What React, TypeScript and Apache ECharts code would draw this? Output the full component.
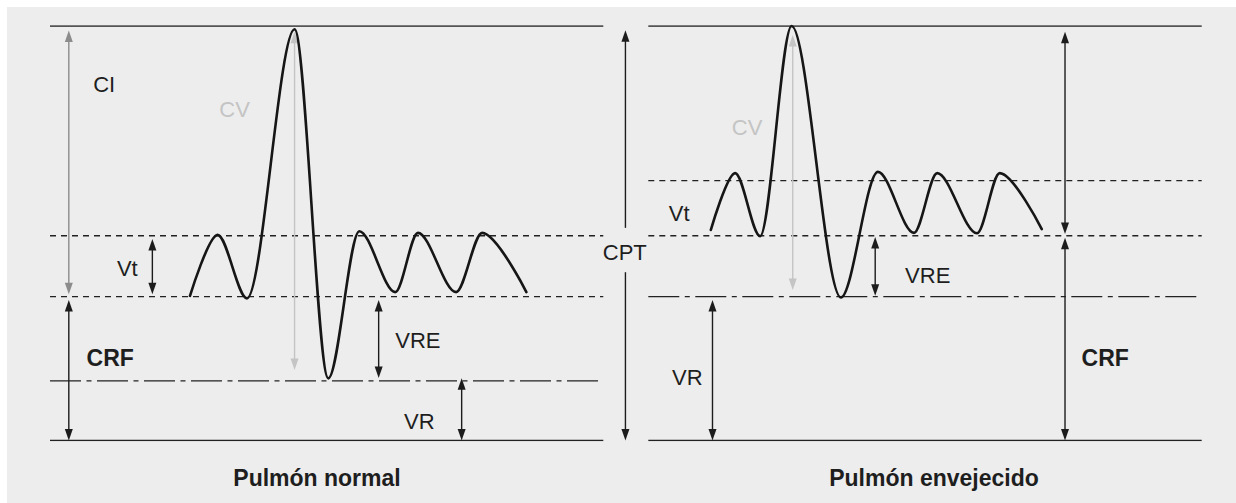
import React, { useEffect, useRef } from "react";
import * as echarts from "echarts";

// Lung volumes as % of total lung capacity (CPT)
const levelKeys = ["CPT", "Vt", "CRF", "VR", "Cero"];
const normalLevels = [100, 49.4, 34.7, 14.4, 0];
const agedLevels = [100, 62.7, 49.4, 34.7, 0];
const levelDash = ["solid", "dashed", "dashed", "dashdot", "solid"];

// Spirogram traces (time units 0..100 per panel, volume % CPT)
const normalTraceX = [25.3, 30.3, 35.6, 44.2, 50.3, 55.9, 62.4, 66.5, 73.4, 78.1, 86.1];
const normalTraceY = [34.9, 49.6, 34.3, 99.2, 15.0, 50.5, 35.8, 50.1, 35.8, 50.1, 35.8];
const agedTraceX = [11.3, 15.7, 20.2, 25.9, 34.8, 41.5, 48.0, 52.2, 59.4, 63.5, 71.1];
const agedTraceY = [50.8, 64.5, 49.3, 100, 34.5, 64.8, 50.1, 64.5, 50.0, 64.5, 51.0];

// Arrows: [x, from, to, head at from, head at to, tone]
const normalArrows = [
  [3.4, 35.3, 98.9, 1, 1, 1],
  [3.4, 33.9, 0, 1, 1, 0],
  [18.5, 48.6, 35.3, 1, 1, 0],
  [44.2, 98.6, 17.0, 1, 1, 2],
  [59.4, 33.9, 15.1, 1, 1, 0],
  [74.4, 15.0, 0, 1, 1, 0],
  [104.0, 51.3, 99.0, 0, 1, 0],
  [104.0, 40.6, 0, 0, 1, 0],
];
const agedArrows = [
  [11.6, 33.9, 0, 1, 1, 0],
  [41.0, 49.1, 34.9, 1, 1, 0],
  [26.1, 97.8, 36.3, 1, 1, 2],
  [75.3, 98.6, 49.8, 1, 1, 0],
  [75.3, 48.9, 0, 1, 1, 0],
];

// Labels
const normalLabels = ["CI", "CV", "Vt", "CRF", "VRE", "VR", "CPT"];
const normalLabelX = [7.8, 30.6, 12.1, 6.6, 62.4, 64.0, 99.9];
const normalLabelY = [85.8, 79.9, 41.6, 19.8, 24.2, 4.5, 45.4];
const agedLabels = ["CV", "Vt", "VRE", "VR", "CRF"];
const agedLabelX = [15.1, 3.7, 46.4, 4.3, 78.3];
const agedLabelY = [75.6, 54.8, 39.9, 15.2, 19.8];

const panelTitles = ["Pulmón normal", "Pulmón envejecido"];

const TONES = ["#1c1c1c", "#8c8c8c", "#c4c4c4"];
const FONT = "'Liberation Sans', Arial, Helvetica, sans-serif";

function dashFor(kind: string): any {
  if (kind === "dashed") return [6, 5];
  if (kind === "dashdot") return [31, 5.5, 5, 5.5];
  return "solid";
}

function levelSeries(levels: number[], gridIdx: number) {
  return levels.map((v, i) => ({
    type: "line",
    name: levelKeys[i],
    xAxisIndex: gridIdx,
    yAxisIndex: gridIdx,
    data: [
      [0, v],
      [100, v],
    ],
    showSymbol: false,
    symbol: "none",
    silent: true,
    z: 2,
    lineStyle: { color: "#222", width: 1.3, type: dashFor(levelDash[i]) },
  }));
}

function traceSeries(xs: number[], ys: number[], gridIdx: number) {
  return {
    type: "line",
    xAxisIndex: gridIdx,
    yAxisIndex: gridIdx,
    data: xs.map((x, i) => [x, ys[i]]),
    smooth: 0.32,
    smoothMonotone: "x",
    showSymbol: false,
    symbol: "none",
    silent: true,
    clip: false,
    z: 5,
    lineStyle: { color: "#161616", width: 2.6, cap: "round", join: "round" },
  };
}

function arrowSeries(arrows: number[][], gridIdx: number) {
  return {
    type: "custom",
    xAxisIndex: gridIdx,
    yAxisIndex: gridIdx,
    data: arrows,
    silent: true,
    clip: false,
    z: 3,
    encode: { x: 0, y: [1, 2] },
    renderItem: (params: any, api: any) => {
      const x = api.value(0);
      const a = api.value(1);
      const b = api.value(2);
      const hA = api.value(3);
      const hB = api.value(4);
      const color = TONES[api.value(5)];
      const p1 = api.coord([x, a]);
      const p2 = api.coord([x, b]);
      const dir = p2[1] >= p1[1] ? 1 : -1;
      const L = 11.5;
      const W = 4;
      const s1 = hA ? p1[1] + dir * (L - 1) : p1[1];
      const s2 = hB ? p2[1] - dir * (L - 1) : p2[1];
      const children: any[] = [
        {
          type: "line",
          shape: { x1: p1[0], y1: s1, x2: p2[0], y2: s2 },
          style: { stroke: color, lineWidth: 1.4 },
        },
      ];
      if (hB) {
        children.push({
          type: "polygon",
          shape: {
            points: [
              [p2[0], p2[1]],
              [p2[0] - W, p2[1] - dir * L],
              [p2[0] + W, p2[1] - dir * L],
            ],
          },
          style: { fill: color },
        });
      }
      if (hA) {
        children.push({
          type: "polygon",
          shape: {
            points: [
              [p1[0], p1[1]],
              [p1[0] - W, p1[1] + dir * L],
              [p1[0] + W, p1[1] + dir * L],
            ],
          },
          style: { fill: color },
        });
      }
      return { type: "group", children };
    },
  };
}

function labelSeries(names: string[], xs: number[], ys: number[], gridIdx: number) {
  return {
    type: "custom",
    xAxisIndex: gridIdx,
    yAxisIndex: gridIdx,
    data: xs.map((x, i) => [x, ys[i]]),
    silent: true,
    clip: false,
    z: 6,
    encode: { x: 0, y: 1 },
    renderItem: (params: any, api: any) => {
      const name = names[params.dataIndex];
      const p = api.coord([api.value(0), api.value(1)]);
      const bold = name === "CRF";
      const fill = name === "CV" ? "#c4c4c4" : "#1e1e1e";
      return {
        type: "text",
        x: p[0],
        y: p[1],
        style: {
          text: name,
          fill,
          fontSize: bold ? 23 : 22,
          fontWeight: bold ? "bold" : "normal",
          fontFamily: FONT,
          align: "left",
          verticalAlign: "middle",
        },
      };
    },
  };
}

export default function App() {
  const ref = useRef<HTMLDivElement>(null);

  useEffect(() => {
    if (!ref.current) return;
    const chart = echarts.init(ref.current, undefined, { renderer: "svg" });
    const gridTop = 19;
    const gridHeight = 414.5;
    const option: any = {
      animation: false,
      backgroundColor: "#ededed",
      grid: [
        { left: 43, top: gridTop, width: 553.3, height: gridHeight },
        { left: 641.3, top: gridTop, width: 553.4, height: gridHeight },
      ],
      xAxis: [0, 1].map((g) => ({
        type: "value",
        gridIndex: g,
        min: 0,
        max: 100,
        show: false,
      })),
      yAxis: [0, 1].map((g) => ({
        type: "value",
        gridIndex: g,
        min: 0,
        max: 100,
        show: false,
      })),
      graphic: panelTitles.map((t, i) => ({
        type: "text",
        x: i === 0 ? 310 : 927,
        y: 471.4,
        style: {
          text: t,
          fill: "#1e1e1e",
          fontSize: 23,
          fontWeight: "bold",
          fontFamily: FONT,
          align: "center",
          verticalAlign: "middle",
        },
      })),
      series: [
        ...levelSeries(normalLevels, 0),
        ...levelSeries(agedLevels, 1),
        arrowSeries(normalArrows, 0),
        arrowSeries(agedArrows, 1),
        traceSeries(normalTraceX, normalTraceY, 0),
        traceSeries(agedTraceX, agedTraceY, 1),
        labelSeries(normalLabels, normalLabelX, normalLabelY, 0),
        labelSeries(agedLabels, agedLabelX, agedLabelY, 1),
      ],
    };
    chart.setOption(option);
    return () => chart.dispose();
  }, []);

  return (
    <div
      ref={ref}
      style={{
        position: "fixed",
        left: 7,
        top: 7,
        width: 1229,
        height: 496,
        background: "#ededed",
      }}
    />
  );
}
